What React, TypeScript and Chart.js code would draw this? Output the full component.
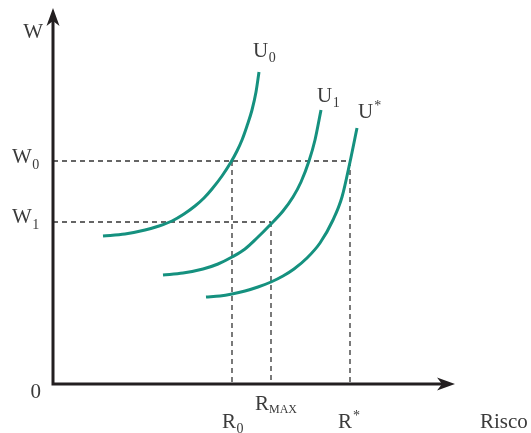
import React, { useEffect, useRef } from "react";
import { Chart, registerables } from "chart.js";

Chart.register(...registerables);

// Values in chart units (origin at the axes' crossing)
const W0 = 223;
const W1 = 162;
const R0 = 179;
const RMAX = 218;
const RSTAR = 297;
const X_END = 402;
const Y_END = 376;

const u0X = [50, 72, 92, 106, 119, 131, 142, 151, 159, 169, 178, 184, 189, 194, 199, 203, 206];
const u0Y = [148, 150, 154, 158, 163, 170, 178, 186, 195, 208, 222, 233, 244, 258, 274, 292, 312];

const u1X = [110, 130, 150, 165, 179, 192, 204, 217, 230, 240, 248, 256, 262, 268];
const u1Y = [109, 111, 115, 120, 127, 135, 146, 159, 173, 187, 202, 223, 244, 274];

const uSX = [153, 167, 179, 192, 205, 218, 230, 241, 254, 267, 280, 289, 297, 304];
const uSY = [87, 88, 90, 93, 97, 102, 108, 115, 126, 141, 164, 187, 222, 256];

const curveNames = ["U0", "U1", "U*"];

const pts = (xs: number[], ys: number[]) => xs.map((x, i) => ({ x, y: ys[i] }));

const TEAL = "#15917f";
const DARK = "#231f20";
const TEXT = "#3b3b3b";
const FONT = "'Liberation Serif', 'DejaVu Serif', serif";

export default function App() {
  const ref = useRef<HTMLCanvasElement | null>(null);

  useEffect(() => {
    if (!ref.current) return;
    const curveStyle = {
      borderColor: TEAL,
      borderWidth: 3,
      pointRadius: 0,
      fill: false,
      cubicInterpolationMode: "monotone" as const,
    };
    const dashStyle = {
      borderColor: "#333",
      borderWidth: 1.3,
      borderDash: [5, 4],
      pointRadius: 0,
      fill: false,
      tension: 0,
    };

    const overlay = {
      id: "overlay",
      afterDatasetsDraw(chart: any) {
        const ctx = chart.ctx as CanvasRenderingContext2D;
        const xs = chart.scales.x;
        const ys = chart.scales.y;
        const px = (v: number) => xs.getPixelForValue(v);
        const py = (v: number) => ys.getPixelForValue(v);
        const ox = px(0);
        const oy = py(0);
        const xe = px(X_END);
        const ye = py(Y_END);

        ctx.save();
        // axes
        ctx.strokeStyle = DARK;
        ctx.fillStyle = DARK;
        ctx.lineWidth = 3;
        ctx.beginPath();
        ctx.moveTo(ox, ye + 10);
        ctx.lineTo(ox, oy);
        ctx.lineTo(xe - 10, oy);
        ctx.stroke();
        // arrow up
        ctx.beginPath();
        ctx.moveTo(ox, ye);
        ctx.lineTo(ox + 6.5, ye + 18);
        ctx.lineTo(ox, ye + 13);
        ctx.lineTo(ox - 6.5, ye + 18);
        ctx.closePath();
        ctx.fill();
        // arrow right
        ctx.beginPath();
        ctx.moveTo(xe, oy);
        ctx.lineTo(xe - 18, oy - 6.5);
        ctx.lineTo(xe - 13, oy);
        ctx.lineTo(xe - 18, oy + 6.5);
        ctx.closePath();
        ctx.fill();

        // labels
        ctx.fillStyle = TEXT;
        ctx.textBaseline = "alphabetic";
        const main = `21px ${FONT}`;
        const sub = `14px ${FONT}`;
        const small = `12px ${FONT}`;
        const draw = (t: string, x: number, y: number, f: string, align: CanvasTextAlign = "left") => {
          ctx.font = f;
          ctx.textAlign = align;
          ctx.fillText(t, x, y);
          return ctx.measureText(t).width;
        };

        // y axis labels
        draw("W", ox - 10, ye + 30, main, "right");
        let w = draw("W", ox - 41, py(W0) + 2, main);
        draw("0", ox - 41 + w + 0.5, py(W0) + 8, sub);
        w = draw("W", ox - 41, py(W1) + 1, main);
        draw("1", ox - 41 + w + 0.5, py(W1) + 7, sub);
        draw("0", ox - 12, oy + 14, main, "right");

        // x axis labels
        w = draw("R", px(R0) - 10, oy + 44, main);
        draw("0", px(R0) - 10 + w + 0.5, oy + 49, sub);
        w = draw("R", px(RMAX) - 16, oy + 26, main);
        draw("MAX", px(RMAX) - 16 + w, oy + 29, small);
        w = draw("R", px(RSTAR) - 12, oy + 44, main);
        draw("*", px(RSTAR) - 12 + w + 1, oy + 36, sub);
        draw("Risco", 480, oy + 44, main);

        // curve labels
        const ends = [
          { x: u0X[u0X.length - 1], y: u0Y[u0Y.length - 1], dx: -6, dy: -15 },
          { x: u1X[u1X.length - 1], y: u1Y[u1Y.length - 1], dx: -4, dy: -8 },
          { x: uSX[uSX.length - 1], y: uSY[uSY.length - 1], dx: 1, dy: -10 },
        ];
        ends.forEach((e, i) => {
          const name = curveNames[i];
          const bx = px(e.x) + e.dx;
          const by = py(e.y) + e.dy;
          const ww = draw("U", bx, by, main);
          const s = name.slice(1);
          if (s === "*") draw(s, bx + ww + 1, by - 8, sub);
          else draw(s, bx + ww + 0.5, by + 5, sub);
        });
        ctx.restore();
      },
    };

    const chart = new Chart(ref.current, {
      type: "line",
      data: {
        datasets: [
          { ...curveStyle, data: pts(u0X, u0Y) },
          { ...curveStyle, data: pts(u1X, u1Y) },
          { ...curveStyle, data: pts(uSX, uSY) },
          { ...dashStyle, data: [{ x: 0, y: W0 }, { x: RSTAR, y: W0 }] },
          { ...dashStyle, data: [{ x: 0, y: W1 }, { x: RMAX, y: W1 }] },
          { ...dashStyle, data: [{ x: R0, y: W0 }, { x: R0, y: 0 }] },
          { ...dashStyle, data: [{ x: RMAX, y: W1 }, { x: RMAX, y: 0 }] },
          { ...dashStyle, data: [{ x: RSTAR, y: W0 }, { x: RSTAR, y: 0 }] },
        ] as any,
      },
      options: {
        animation: false,
        responsive: false,
        devicePixelRatio: 1,
        layout: { padding: 0 },
        plugins: { legend: { display: false }, tooltip: { enabled: false } },
        scales: {
          x: { type: "linear", min: -53, max: 478, display: false },
          y: { type: "linear", min: -49, max: 384, display: false },
        },
      },
      plugins: [overlay],
    });
    return () => chart.destroy();
  }, []);

  return (
    <div style={{ position: "fixed", left: 0, top: 0, width: 531, height: 433, background: "#fff" }}>
      <canvas ref={ref} width={531} height={433} style={{ width: 531, height: 433 }} />
    </div>
  );
}
